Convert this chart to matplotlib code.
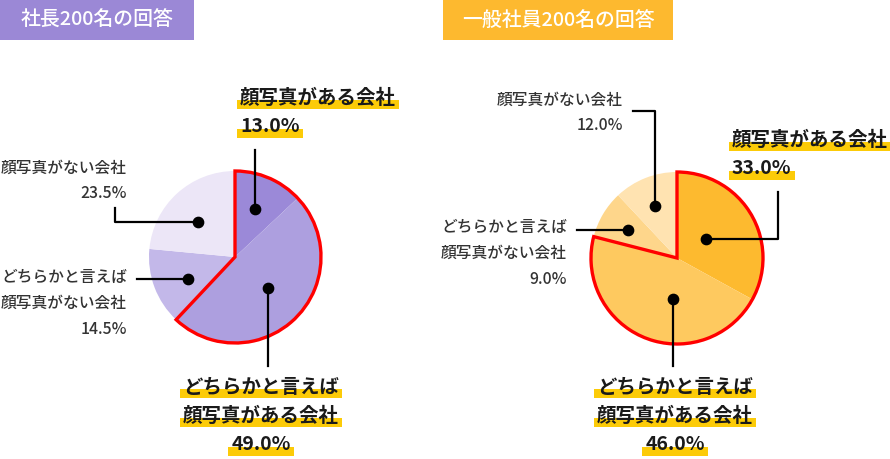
import math
import matplotlib
matplotlib.use('Agg')
import matplotlib.pyplot as plt
from matplotlib.patches import Wedge, Rectangle

plt.rcParams['font.family'] = ['Noto Sans CJK JP', 'DejaVu Sans']

# data
left_title = '社長200名の回答'
right_title = '一般社員200名の回答'
categories = ['顔写真がある会社',
              'どちらかと言えば\n顔写真がある会社',
              'どちらかと言えば\n顔写真がない会社',
              '顔写真がない会社']
left_values = [13.0, 49.0, 14.5, 23.5]
right_values = [33.0, 46.0, 9.0, 12.0]

left_colors = ['#9b89d8', '#ad9fdf', '#c3b8e9', '#ece6f7']
right_colors = ['#fdba2f', '#fec95f', '#fed68b', '#ffe3b1']
HL = '#fccb08'

W, H = 890, 459
R = 86


def set_px(ax):
    ax.set_xlim(0, W)
    ax.set_ylim(H, 0)


def text_block(ax, fig, x, y, lines, ha, big):
    size = 14 if big else 11.3
    step = 29 if big else 26
    for i, s in enumerate(lines):
        yy = y + i * step
        t = ax.text(x, yy, s, ha=ha, va='center', fontsize=size,
                    fontweight='bold' if big else 'medium',
                    color='#1a1a1a' if big else '#333333', zorder=5)
        if big:
            fig.canvas.draw()
            bb = t.get_window_extent().transformed(ax.transData.inverted())
            x0, x1 = min(bb.x0, bb.x1), max(bb.x0, bb.x1)
            ax.add_patch(Rectangle((x0 - 3, yy + 2), x1 - x0 + 6, 9,
                                   color=HL, lw=0, zorder=4))


def draw_chart(ax, fig, cx, cy, values, colors, layout):
    ax.pie(values, colors=colors, center=(cx, cy), radius=R,
           startangle=-90, counterclock=True,
           wedgeprops=dict(linewidth=0))
    set_px(ax)
    total = sum(values)
    # red outline round the "ある" part (first two slices)
    frac = (values[0] + values[1]) / total
    ax.add_patch(Wedge((cx, cy), R, -90, -90 + 360 * frac, fill=False,
                       ec='#ff0000', lw=2.4, joinstyle='miter', zorder=3))
    cum = 0
    for v, lab, (t, rf, kind, pts, tx, ty, ha, big) in zip(values, categories, layout):
        a = math.radians(-90 + 360 * (cum + t * v) / total)
        cum += v
        dx, dy = cx + rf * R * math.cos(a), cy + rf * R * math.sin(a)
        if kind == 'v':
            xs, ys = [dx, dx], [dy, pts[0]]
        elif kind == 'h':
            xs, ys = [dx, pts[0]], [dy, dy]
        elif kind == 'hv':
            xs, ys = [dx, pts[0], pts[0]], [dy, dy, pts[1]]
        else:
            xs, ys = [dx, dx, pts[0]], [dy, pts[1], pts[1]]
        ax.plot(xs, ys, color='black', lw=1.6, zorder=6)
        ax.scatter([dx], [dy], s=55, color='black', zorder=7)
        lines = lab.split('\n') + [f'{v:.1f}%']
        text_block(ax, fig, tx, ty, lines, ha, big)


fig = plt.figure(figsize=(W / 100, H / 100), dpi=100)
ax = fig.add_axes([0, 0, 1, 1])
set_px(ax)

# (t in slice, radius frac, leader kind, leader points, text x, text y, ha, big)
left_layout = [
    (0.48, 0.6, 'v', (150,), 240, 98, 'left', True),
    (0.49, 0.52, 'v', (366,), 261, 387, 'center', True),
    (0.42, 0.6, 'h', (137,), 127, 277, 'right', False),
    (0.45, 0.6, 'hv', (115, 208), 127, 168, 'right', False),
]
right_layout = [
    (0.48, 0.4, 'hv', (778, 192), 732, 140, 'left', True),
    (0.40, 0.48, 'v', (366,), 675, 387, 'center', True),
    (0.48, 0.66, 'h', (577,), 567, 227, 'right', False),
    (0.48, 0.66, 'vh', (633, 111), 623, 100, 'right', False),
]

draw_chart(ax, fig, 235, 257, left_values, left_colors, left_layout)
draw_chart(ax, fig, 677, 258, right_values, right_colors, right_layout)

set_px(ax)
ax.set_aspect('equal')
ax.axis('off')

# title boxes
ax.add_patch(Rectangle((0, 0), 194, 40, color='#9b88d6', lw=0))
ax.text(97, 20, left_title, ha='center', va='center', fontsize=14.3,
        color='white', fontweight='medium')
ax.add_patch(Rectangle((443, 0), 230, 40, color='#fdb92f', lw=0))
ax.text(558, 20, right_title, ha='center', va='center', fontsize=14.3,
        color='white', fontweight='medium')

fig.savefig('out.png', dpi=100)
